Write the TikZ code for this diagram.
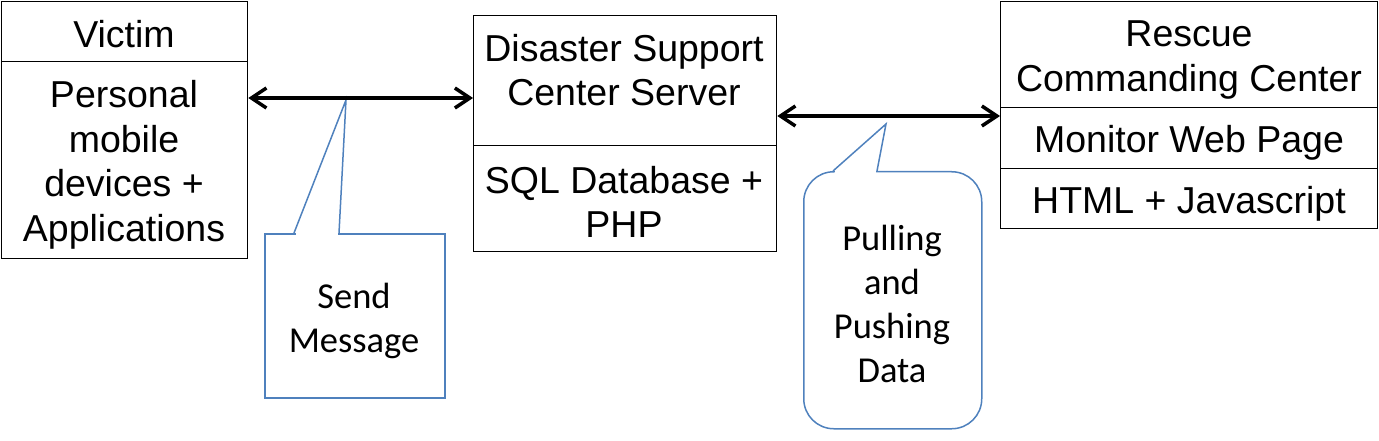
\documentclass[tikz,border=0pt]{standalone}
\usepackage{fontspec}
\setmainfont{Liberation Sans}
\newfontfamily\calfont{Carlito}
\usetikzlibrary{arrows.meta}
\definecolor{callblue}{RGB}{79,129,189}
\begin{document}
\begin{tikzpicture}[x=1pt,y=-1pt,
  cell/.style={draw, line width=1.3pt, inner sep=0pt, anchor=north west},
  boxtext/.style={font=\fontsize{37.5}{44.5}\selectfont, align=center, inner sep=0pt},
  calltext/.style={font=\calfont\fontsize{36.5}{44}\selectfont, align=center, inner sep=0pt},
  callbody/.style={draw=callblue, line width=1.5pt, inner sep=0pt, anchor=north west},
  callline/.style={draw=callblue, line width=1.5pt, line join=miter},
  link/.style={line width=3.5pt, {Straight Barb[length=15pt,width=20pt]}-{Straight Barb[length=15pt,width=20pt]}}]
\useasboundingbox (0,0) rectangle (1379,441);
% boxes
\node[cell, minimum width=246pt, minimum height=60pt] (victimT) at (1,1) {};
\node[cell, minimum width=246pt, minimum height=197pt] (victimB) at (1,61) {};
\node[cell, minimum width=303pt, minimum height=130pt] (serverT) at (473,15) {};
\node[cell, minimum width=303pt, minimum height=106pt] (serverB) at (473,145) {};
\node[cell, minimum width=377pt, minimum height=106pt] (rescueT) at (1000,1) {};
\node[cell, minimum width=377pt, minimum height=61pt] (rescueM) at (1000,107) {};
\node[cell, minimum width=377pt, minimum height=60pt] (rescueB) at (1000,168) {};
% box texts
\node[boxtext] (t1) at (124,34) {Victim};
\node[boxtext] (t2) at (124,165) {Personal\\mobile\\devices +\\Applications};
\node[boxtext] (t3) at (624,70) {Disaster Support\\Center Server};
\node[boxtext] (t4) at (624,202) {SQL Database +\\PHP};
\node[boxtext] (t5) at (1189,60) {Rescue\\Commanding Center};
\node[boxtext] (t6) at (1189,143) {Monitor Web Page};
\node[boxtext] (t7) at (1189,204) {HTML + Javascript};
% callout 1
\node[callbody, minimum width=180pt, minimum height=164pt] (call1) at (264,233) {};
\fill[white] (295.5,231) rectangle (337.5,235);
\coordinate (tip1) at (346,100);
\draw[callline] (294,233) -- (tip1) -- (339,233);
\node[calltext] (c1) at (354,321) {Send\\Message};
% callout 2
\node[callbody, rounded corners=30pt, minimum width=178pt, minimum height=257pt] (call2) at (803,171) {};
\fill[white] (834.5,169) rectangle (875.5,173);
\coordinate (tip2) at (886,124);
\draw[callline] (833,171) -- (tip2) -- (877,171);
\node[calltext] (c2) at (892,304) {Pulling\\and\\Pushing\\Data};
% arrows
\coordinate (a1) at (0,98);
\coordinate (a2) at (0,116);
\draw[link] (victimB.east |- a1) -- (serverT.west |- a1);
\draw[link] (serverT.east |- a2) -- (rescueM.west |- a2);
\end{tikzpicture}
\end{document}
